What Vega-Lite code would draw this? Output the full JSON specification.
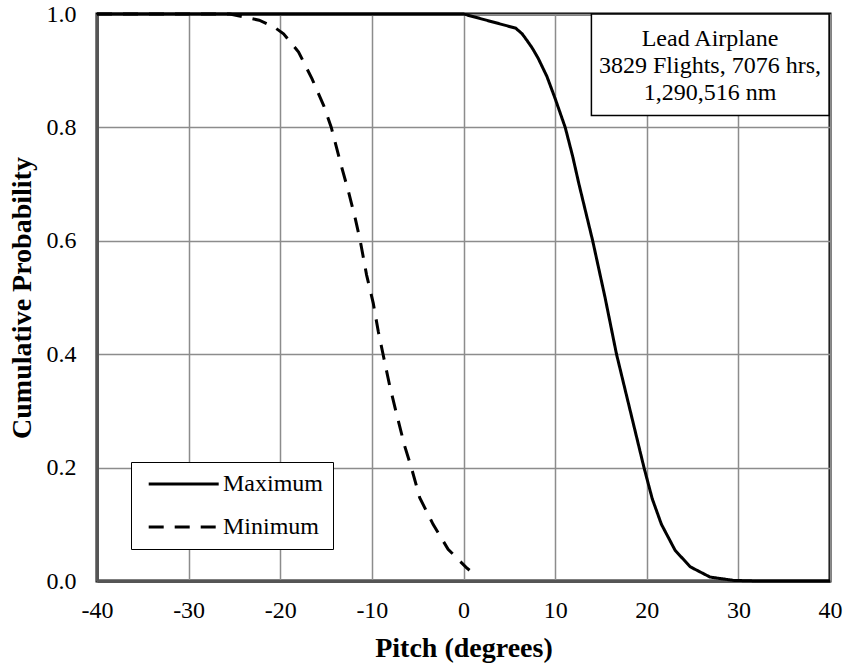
{
  "$schema": "https://vega.github.io/schema/vega-lite/v6.json",
  "width": 733,
  "height": 567,
  "autosize": "none",
  "padding": {"left": 97, "top": 14, "right": 16, "bottom": 85},
  "background": "white",
  "config": {
    "font": "Liberation Serif",
    "view": {"stroke": "black", "strokeWidth": 3},
    "axis": {
      "labelFont": "Liberation Serif",
      "labelFontSize": 24,
      "labelColor": "black",
      "labelFlush": false,
      "labelOverlap": false,
      "titleFont": "Liberation Serif",
      "titleFontSize": 28,
      "titleFontWeight": "bold",
      "titleColor": "black",
      "ticks": false,
      "gridColor": "#8c8c8c",
      "gridWidth": 1.5,
      "domainColor": "#555555",
      "domainWidth": 3
    }
  },
  "datasets": {
    "pitch": [
      {"series": "Maximum", "pitch": -40, "prob": 1.0},
      {"series": "Maximum", "pitch": 0, "prob": 1.0},
      {"series": "Maximum", "pitch": 5.7, "prob": 0.975},
      {"series": "Maximum", "pitch": 6.4, "prob": 0.965},
      {"series": "Maximum", "pitch": 6.9, "prob": 0.954},
      {"series": "Maximum", "pitch": 7.5, "prob": 0.94},
      {"series": "Maximum", "pitch": 8.15, "prob": 0.922},
      {"series": "Maximum", "pitch": 9.1, "prob": 0.89},
      {"series": "Maximum", "pitch": 10.0, "prob": 0.851},
      {"series": "Maximum", "pitch": 11.1, "prob": 0.8},
      {"series": "Maximum", "pitch": 11.9, "prob": 0.75},
      {"series": "Maximum", "pitch": 12.6, "prob": 0.7},
      {"series": "Maximum", "pitch": 14.1, "prob": 0.6},
      {"series": "Maximum", "pitch": 15.45, "prob": 0.5},
      {"series": "Maximum", "pitch": 16.7, "prob": 0.4},
      {"series": "Maximum", "pitch": 18.2, "prob": 0.3},
      {"series": "Maximum", "pitch": 19.7, "prob": 0.2},
      {"series": "Maximum", "pitch": 20.6, "prob": 0.145},
      {"series": "Maximum", "pitch": 21.6, "prob": 0.1},
      {"series": "Maximum", "pitch": 23.1, "prob": 0.054},
      {"series": "Maximum", "pitch": 24.75, "prob": 0.025},
      {"series": "Maximum", "pitch": 26.9, "prob": 0.007},
      {"series": "Maximum", "pitch": 29.5, "prob": 0.001},
      {"series": "Maximum", "pitch": 32, "prob": 0.0},
      {"series": "Maximum", "pitch": 40, "prob": 0.0},
      {"series": "Minimum", "pitch": -40, "prob": 1.0},
      {"series": "Minimum", "pitch": -25.5, "prob": 1.0},
      {"series": "Minimum", "pitch": -22.3, "prob": 0.989},
      {"series": "Minimum", "pitch": -20.66, "prob": 0.977},
      {"series": "Minimum", "pitch": -19.64, "prob": 0.965},
      {"series": "Minimum", "pitch": -18.0, "prob": 0.933},
      {"series": "Minimum", "pitch": -16.54, "prob": 0.886},
      {"series": "Minimum", "pitch": -15.27, "prob": 0.839},
      {"series": "Minimum", "pitch": -14.43, "prob": 0.8},
      {"series": "Minimum", "pitch": -13.45, "prob": 0.739},
      {"series": "Minimum", "pitch": -12.54, "prob": 0.686},
      {"series": "Minimum", "pitch": -11.81, "prob": 0.639},
      {"series": "Minimum", "pitch": -11.27, "prob": 0.6},
      {"series": "Minimum", "pitch": -10.58, "prob": 0.54},
      {"series": "Minimum", "pitch": -9.85, "prob": 0.49},
      {"series": "Minimum", "pitch": -9.3, "prob": 0.44},
      {"series": "Minimum", "pitch": -8.78, "prob": 0.4},
      {"series": "Minimum", "pitch": -8.05, "prob": 0.344},
      {"series": "Minimum", "pitch": -7.25, "prob": 0.291},
      {"series": "Minimum", "pitch": -6.42, "prob": 0.238},
      {"series": "Minimum", "pitch": -5.69, "prob": 0.2},
      {"series": "Minimum", "pitch": -4.78, "prob": 0.147},
      {"series": "Minimum", "pitch": -3.32, "prob": 0.1},
      {"series": "Minimum", "pitch": -1.68, "prob": 0.056},
      {"series": "Minimum", "pitch": 0.29, "prob": 0.024},
      {"series": "Minimum", "pitch": 0.66, "prob": 0.019}
    ]
  },
  "layer": [
    {
      "data": {"name": "pitch"},
      "mark": {"type": "line", "color": "black", "strokeWidth": 3},
      "encoding": {
        "x": {
          "field": "pitch",
          "type": "quantitative",
          "scale": {"domain": [-40, 40], "nice": false},
          "axis": {
            "title": "Pitch (degrees)",
            "values": [-40, -30, -20, -10, 0, 10, 20, 30, 40],
            "labelExpr": "'' + datum.value",
            "labelPadding": 17,
            "titlePadding": 12
          }
        },
        "y": {
          "field": "prob",
          "type": "quantitative",
          "scale": {"domain": [0, 1], "nice": false},
          "axis": {
            "title": "Cumulative Probability",
            "values": [0, 0.2, 0.4, 0.6, 0.8, 1.0],
            "format": ".1f",
            "labelPadding": 21,
            "titlePadding": 10
          }
        },
        "strokeDash": {
          "field": "series",
          "type": "nominal",
          "scale": {"domain": ["Maximum", "Minimum"], "range": [[1, 0], [15, 11]]},
          "legend": {
            "title": null,
            "orient": "none",
            "legendX": 34,
            "legendY": 448,
            "symbolType": "M-3.5,0H3.5",
            "symbolSize": 400,
            "symbolOffset": 30.7,
            "symbolStrokeWidth": 3,
            "symbolStrokeColor": "black",
            "symbolFillColor": "transparent",
            "labelFont": "Liberation Serif",
            "labelFontSize": 24,
            "labelColor": "black",
            "labelOffset": 27.3,
            "padding": 10,
            "rowPadding": 19,
            "strokeColor": "black",
            "fillColor": "white"
          }
        }
      }
    },
    {
      "data": {"values": [{}]},
      "mark": {"type": "rect", "fill": "white", "stroke": "black", "strokeWidth": 1.5},
      "encoding": {
        "x": {"datum": 13.96, "type": "quantitative"},
        "x2": {"datum": 39.9},
        "y": {"datum": 1.0, "type": "quantitative"},
        "y2": {"datum": 0.821}
      }
    },
    {
      "data": {"values": [{}]},
      "mark": {
        "type": "text",
        "font": "Liberation Serif",
        "fontSize": 24,
        "align": "center",
        "baseline": "alphabetic",
        "lineHeight": 27,
        "color": "black"
      },
      "encoding": {
        "x": {"datum": 26.9, "type": "quantitative"},
        "y": {"datum": 0.9436, "type": "quantitative"},
        "text": {"value": ["Lead Airplane", "3829 Flights, 7076 hrs,", "1,290,516 nm"]}
      }
    }
  ]
}
